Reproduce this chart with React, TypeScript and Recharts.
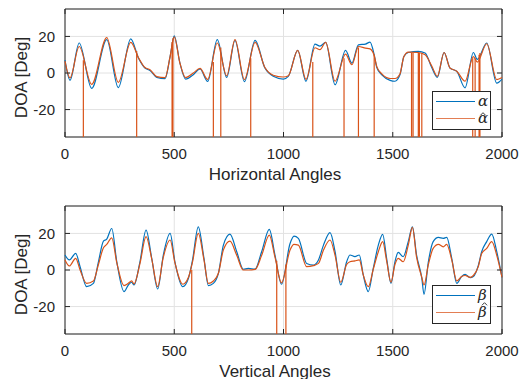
import { LineChart, Line, XAxis, YAxis, CartesianGrid, ReferenceArea, Legend } from 'recharts';

const AX = '#262626';
const BLUE = '#0072BD';
const ORANGE = '#D95319';
const GRID = '#e2e2e2';
const FONT = '"Liberation Sans", Arial, Helvetica, sans-serif';
const SERIF = '"DejaVu Serif", "Liberation Serif", serif';

const X_TICKS = [0, 500, 1000, 1500, 2000];
const Y_TICKS = [-20, 0, 20];
const Y_MIN = -35;
const Y_MAX = 35;

// horizontal angles: knot positions and values (alpha / alpha hat)
const H_X = [0, 23, 65, 122, 191, 244, 301, 336, 366, 389, 420, 458, 481, 500, 526, 552, 587, 618, 653, 697, 740, 778, 821, 870, 915, 953, 999, 1022, 1065, 1103, 1144, 1167, 1193, 1236, 1284, 1313, 1343, 1375, 1396, 1415, 1427, 1450, 1488, 1510, 1533, 1551, 1571, 1617, 1648, 1678, 1704, 1735, 1762, 1793, 1831, 1869, 1887, 1930, 1976, 2000];
const ALPHA = [7, -4, 16.4, -8.4, 18.2, -8, 18.7, 8.2, 2.7, 1.4, -2.4, -3.1, 9, 20.3, 5.4, -3.3, -0.9, 2.2, -4.6, 18.2, -2.4, 17.8, -4.7, 17.8, 2.7, -1.8, -3.3, -1.8, 12.4, -4.5, 15.8, 14.7, 16.7, -6.4, 12.4, 5.4, 15.4, 15.8, 16.9, 10, 3, -1, -4, -4.5, -1, 9, 11.2, 11.8, 10.9, 3.1, -2.4, 11.2, 2.7, 0.9, -8.1, 11.2, 7.4, 16.4, -5.5, -3.3];
const ALPHA_HAT = [6.5, -2.7, 14.5, -6.2, 19.4, -5.1, 16.7, 8.5, 3, 1.8, -2, -2.5, 9, 19.8, 5.4, -2.5, 0, 2.5, -3.5, 16.4, -1.5, 18.2, -3.6, 16.8, 3, -1.2, -2.2, -1.5, 12.4, -3.5, 13.8, 12.8, 16.7, -4.5, 10.3, 4.5, 14.5, 13.6, 13.2, 9.5, 3.5, -0.5, -3, -3, -0.5, 9, 11.4, 11.2, 10, 4, -1.8, 11.2, 2.7, 1, -4.5, 9, 6, 16, -3.6, -2.5];
const ALPHA_SPIKE_X = [84, 328, 490, 494, 679, 713, 850, 1134, 1277, 1343, 1415, 1586, 1593, 1617, 1622, 1633, 1866, 1877, 1895, 1899];
const ALPHA_SPIKE_TOP = [7, 12, 17, 19, 6, 14, 8, 6, 8, 14, 10, 11, 11, 11, 11, 11, 8, 8, 10, 11];

// vertical angles: knot positions and values (beta / beta hat)
const V_X = [0, 20, 49, 69, 99, 130, 153, 176, 191, 214, 237, 270, 290, 305, 316, 343, 371, 397, 424, 450, 481, 503, 539, 565, 583, 610, 636, 656, 679, 702, 725, 755, 786, 816, 839, 870, 900, 935, 961, 991, 1030, 1048, 1068, 1106, 1137, 1160, 1183, 1213, 1236, 1262, 1289, 1304, 1327, 1347, 1365, 1388, 1411, 1434, 1454, 1472, 1492, 1510, 1525, 1548, 1571, 1590, 1609, 1633, 1643, 1663, 1685, 1709, 1731, 1747, 1770, 1793, 1815, 1831, 1854, 1869, 1892, 1907, 1930, 1953, 1976, 2000];
const BETA = [8.2, 5.5, 9.1, 1.8, -9.1, -7.3, 4.5, 15.8, 16.9, 22.7, 4.5, -11.8, -8.2, -6.7, -8.2, 4.5, 21.8, 6.4, -10.4, 8.2, 20, 4.5, -9.1, -4.5, 5, 23.6, 6.4, -8.5, -7.3, -1.8, 13.6, 19.6, 10, 0.4, 0.9, 0.5, 10, 22.2, 8.2, -7.8, 14.5, 18.5, 17.3, 3.6, 2.7, 5.5, 13.6, 20.4, 10, -8.2, 4.5, 8.2, 7.3, 8.2, -2.7, -11.8, 1, 13.6, 19.5, 6.4, -7.3, 4.5, 9.6, 7.3, 15.5, 23.6, 8.2, -4.5, -13.3, 4.5, 15.5, 17.8, 17.3, 17.8, 6.4, -7.3, -3.6, -2.4, -4.2, -3.6, 2.7, 10, 15.5, 19.6, 10, -4];
const BETA_HAT = [5.5, 2.2, 6.4, 0, -7.3, -6, 3, 12.2, 14, 17.6, 4, -8.5, -7.3, -6, -7.6, 3.5, 18.2, 6, -9.1, 7, 16.4, 4, -7.8, -4, 4, 20, 5.5, -7.3, -6, -1.8, 11, 15.8, 8, 0, 0, 0.3, 8, 19.1, 7, -7, 11, 14, 13.6, 1.8, 2.4, 3.6, 10.9, 16.4, 8, -6.7, 3, 4.5, 5, 5.5, -2.7, -9.1, 0.5, 10, 15.5, 5, -6.7, 3, 6.4, 4.5, 13.6, 23.3, 7, -4, -8.2, 3, 11.8, 14, 12.7, 14, 5.5, -6, -3.6, -3, -4, -3, 2, 9, 11.8, 15.5, 8, -4];
const BETA_SPIKE_X = [580, 969, 1011];
const BETA_SPIKE_TOP = [0, 5, 3];

const PLOT_W = 437;
const PLOT_H = 128;

function XTick({ x, y, payload }: any) {
  return (
    <g>
      <line x1={x} x2={x} y1={y} y2={y - 5} stroke={AX} />
      <line x1={x} x2={x} y1={y - PLOT_H} y2={y - PLOT_H + 5} stroke={AX} />
      <text x={x} y={y + 22} textAnchor="middle" fontSize={15} fill={AX} fontFamily={FONT}>
        {payload.value}
      </text>
    </g>
  );
}

function YTick({ x, y, payload }: any) {
  return (
    <g>
      <line x1={x} x2={x + 5} y1={y} y2={y} stroke={AX} />
      <line x1={x + PLOT_W} x2={x + PLOT_W - 5} y1={y} y2={y} stroke={AX} />
      <text x={x - 10} y={y} dy={5.3} textAnchor="end" fontSize={15} fill={AX} fontFamily={FONT}>
        {payload.value}
      </text>
    </g>
  );
}

// legend symbol: greek letter, with a hat stroke drawn on top when the name carries U+0302
function Symbol({ value, x, y }: any) {
  const hat = value.includes('\u0302');
  const base = value.replace('\u0302', '');
  const lift = base === 'β' ? 4 : 0;
  const cx = x + (base === 'β' ? 6.5 : 5);
  const hy = y - 9.5 - lift;
  return (
    <g>
      <text x={x} y={y} fontSize={15} fill={AX} fontFamily={SERIF} fontStyle="italic">{base}</text>
      {hat && (
        <path d={`M${cx - 2.6},${hy + 1.8} L${cx},${hy - 0.8} L${cx + 2.6},${hy + 1.8}`} fill="none" stroke={AX} strokeWidth={0.9} />
      )}
    </g>
  );
}

function LegendBox({ payload }: any) {
  const items = (payload || []).filter((p: any) => p.type !== 'none');
  return (
    <div style={{ width: 59, height: 39, background: '#fff', border: `1px solid ${AX}`, boxSizing: 'border-box' }}>
      <svg width={57} height={37} style={{ display: 'block', overflow: 'visible' }}>
        {items.map((p: any, i: number) => (
          <g key={i}>
            <line x1={3} x2={42} y1={9.5 + i * 17} y2={9.5 + i * 17} stroke={p.color} strokeWidth={1.2} strokeOpacity={i ? 0.75 : 1} />
            <Symbol value={String(p.value)} x={45} y={14 + i * 17} />
          </g>
        ))}
      </svg>
    </div>
  );
}

function Panel({ top, height, legendTop, xs, truth, est, spikeX, spikeTop, names, xLabel }: any) {
  const truthData = xs.map((x: number, i: number) => ({ x, y: truth[i] }));
  const estData = xs.map((x: number, i: number) => ({ x, y: est[i] }));
  const spikeData = spikeX.flatMap((x: number, i: number) => [
    { x, y: spikeTop[i] },
    { x, y: Y_MIN },
    { x, y: null },
  ]);

  const yLabel = (props: any) => {
    const vb = props.viewBox || { x: 0, y: 9, width: 65, height: PLOT_H };
    const cx = vb.x + 21;
    const cy = vb.y + vb.height / 2 + 4.5;
    return (
      <text x={cx} y={cy} transform={`rotate(-90 ${cx} ${cy})`} textAnchor="middle" dominantBaseline="central" fontSize={17} fill={AX} fontFamily={FONT}>
        DOA [Deg]
      </text>
    );
  };

  const xLabelRender = (props: any) => {
    const vb = props.viewBox || { x: 65, y: 9 + PLOT_H };
    return (
      <text x={vb.x + 210} y={vb.y + 42.5} textAnchor="middle" fontSize={17} fill={AX} fontFamily={FONT}>
        {xLabel}
      </text>
    );
  };

  return (
    <div style={{ position: 'absolute', left: 0, top, width: 520, height }}>
      <LineChart width={520} height={height} margin={{ top: 9, right: 18, bottom: 0, left: 0 }}>
        <CartesianGrid stroke={GRID} strokeWidth={1} />
        <XAxis
          type="number"
          dataKey="x"
          domain={[0, 2000]}
          ticks={X_TICKS}
          interval={0}
          height={height - 9 - PLOT_H}
          tickSize={0}
          tickMargin={0}
          axisLine={false}
          tickLine={false}
          tick={<XTick />}
          label={{ content: xLabelRender }}
        />
        <YAxis
          type="number"
          domain={[Y_MIN, Y_MAX]}
          allowDataOverflow
          ticks={Y_TICKS}
          interval={0}
          width={65}
          tickSize={0}
          tickMargin={0}
          axisLine={false}
          tickLine={false}
          tick={<YTick />}
          label={{ content: yLabel }}
        />
        <ReferenceArea x1={0} x2={2000} y1={Y_MIN} y2={Y_MAX} fill="none" stroke={AX} strokeWidth={1} ifOverflow="visible" />
        <Line data={truthData} dataKey="y" name={names[0]} type="monotone" stroke={BLUE} strokeWidth={1.2} dot={false} activeDot={false} isAnimationActive={false} />
        <Line data={estData} dataKey="y" name={names[1]} type="monotone" stroke={ORANGE} strokeWidth={1.2} dot={false} activeDot={false} isAnimationActive={false} />
        <Line data={spikeData} dataKey="y" name="spikes" type="linear" stroke={ORANGE} strokeWidth={1.2} dot={false} activeDot={false} legendType="none" isAnimationActive={false} />
        <Legend
          layout="horizontal"
          verticalAlign="middle"
          align="center"
          content={<LegendBox />}
          wrapperStyle={{ left: 432, top: legendTop, width: 59, height: 39 }}
        />
      </LineChart>
    </div>
  );
}

export default function App() {
  return (
    <div style={{ position: 'absolute', left: 0, top: 0, width: 520, height: 379, background: '#fff', overflow: 'hidden' }}>
      <Panel
        top={0}
        height={190}
        legendTop={91}
        xs={H_X}
        truth={ALPHA}
        est={ALPHA_HAT}
        spikeX={ALPHA_SPIKE_X}
        spikeTop={ALPHA_SPIKE_TOP}
        names={['α', 'α\u0302']}
        xLabel="Horizontal Angles"
      />
      <Panel
        top={197}
        height={182}
        legendTop={88}
        xs={V_X}
        truth={BETA}
        est={BETA_HAT}
        spikeX={BETA_SPIKE_X}
        spikeTop={BETA_SPIKE_TOP}
        names={['β', 'β\u0302']}
        xLabel="Vertical Angles"
      />
    </div>
  );
}
